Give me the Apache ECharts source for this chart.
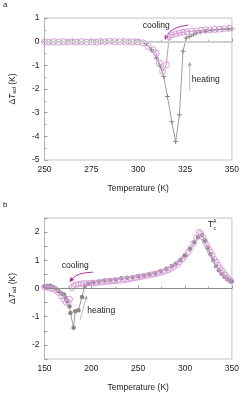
<!DOCTYPE html>
<html><head><meta charset="utf-8">
<script src="https://cdn.jsdelivr.net/npm/echarts@6/dist/echarts.min.js"></script>
<style>html,body{margin:0;padding:0;background:#fff}#c{width:242px;height:393px}</style>
</head><body><div id="c"></div>
<script>
// ---- Panel a data ----
const aHeatT = [250,253,256,259,262,265,268,271,274,277,280,283,286,289,292,295,298,301,304.4,307,309.6,311.7,313.6,315.6,317.9,320,322,323.9,325.6,327.5,329.5,331,333,336,339,342,345,348,350];
const aHeatV = [0,-0.02,0,-0.01,0,0,0,0.01,0,0,0,0.01,0,0,0,0,0,-0.02,-0.08,-0.34,-0.69,-1.04,-1.47,-2.32,-3.38,-4.22,-3.09,-0.41,0.16,0.22,0.3,0.37,0.4,0.44,0.47,0.5,0.52,0.53,0.55];
const aCoolT = [250,252.5,255,257.5,260,262.5,265,267.5,270,272.5,275,277.5,280,282.5,285,287.5,290,292.5,295,297.5,300,302.5,305.3,307.9,309.6,311.3,313,315,316.5,318,320,322,324,326,328.5,331,333.5,336,338.5,341,343.5,346,348.5];
const aCoolV = [0,-0.02,0,-0.03,0,-0.02,0,-0.02,0,-0.02,0,-0.03,0.01,0,0.02,0,0,0.01,-0.01,0,-0.02,-0.05,-0.2,-0.34,-0.48,-0.9,-1.25,-0.97,0.2,0.28,0.33,0.37,0.4,0.42,0.44,0.46,0.48,0.5,0.5,0.52,0.53,0.55,0.57];
// ---- Panel b data ----
const bHeatT = [150,153,156,159,162,165,168,170.8,172.5,174.3,176.7,177.7,181,182.8,186.2,190,193,197,202,208,214,220,226,232,238,244,250,256,262,268,274,280,286,290,295,300,305,310,314,318,321,324,327,330,333,336,339,342,345,348,350];
const bHeatV = [0.08,0.1,0.1,0.05,0,-0.1,-0.18,-0.21,-0.33,-0.45,-0.63,-0.87,-1.39,-0.81,-0.77,-0.3,0.1,0.17,0.22,0.25,0.28,0.3,0.32,0.36,0.38,0.4,0.43,0.46,0.5,0.55,0.62,0.7,0.8,0.88,1.0,1.18,1.4,1.65,1.83,1.9,1.7,1.45,1.22,1.0,0.8,0.65,0.52,0.42,0.33,0.27,0.25];
const bCoolT = [150,153,156,159,162,165,168,170.5,173,175.5,177,179,181,183.5,186,189,192,195,198,201,204,207,210,213,216,219,222,225,228,231,234,237,240,243,246,249,252,255,258,261,264,267,270,273,276,279,282,285,288,291,294,297,300,303,306,309,312,315,317,319,321,323,325,327,329,331,333,335,337,339,341,343,345,347,349];
const bCoolV = [0.05,0.03,0.01,-0.02,-0.05,-0.15,-0.27,-0.38,-0.5,-0.48,-0.38,0.02,0.1,0.14,0.15,0.17,0.18,0.18,0.19,0.2,0.2,0.21,0.22,0.23,0.24,0.25,0.26,0.27,0.28,0.29,0.3,0.31,0.33,0.35,0.37,0.39,0.41,0.43,0.45,0.47,0.49,0.51,0.53,0.56,0.59,0.62,0.66,0.71,0.77,0.84,0.93,1.03,1.15,1.28,1.42,1.6,1.8,2.0,1.95,1.82,1.68,1.55,1.42,1.3,1.18,1.05,0.95,0.84,0.74,0.65,0.56,0.48,0.4,0.33,0.27];

const pair = (t,v)=>t.map((x,i)=>[x,v[i]]);
const FONT = "'Liberation Sans', Arial, sans-serif";
const FS = 8.5;
const GRAYLINE = '#9c9c9c', GRAYMK = '#888888', PINK = '#d69ed6', MAG = '#a3228f';
const plus = 'path://M2,0L3,0L3,2L5,2L5,3L3,3L3,5L2,5L2,3L0,3L0,2L2,2Z';

function xAx(idx,min,max,iv){
  return {gridIndex:idx,type:'value',min,max,interval:iv,
    name:'Temperature (K)',nameLocation:'middle',nameGap:24,
    nameTextStyle:{fontFamily:FONT,fontSize:FS,color:'#222'},
    axisLine:{lineStyle:{color:'#b5b5b5'}},axisTick:{inside:true,length:3,lineStyle:{color:'#999'}},
    minorTick:{show:true,splitNumber:2,length:2,lineStyle:{color:'#aaa'}},
    axisLabel:{fontFamily:FONT,fontSize:FS,color:'#222',margin:5},splitLine:{show:false}};
}
function yAx(idx,min,max,iv,fmt){
  return {gridIndex:idx,type:'value',min,max,interval:iv,
    name:'{d|Δ}{t|T}{s|ad}{d| (K)}',nameLocation:'middle',nameGap:27,nameRotate:90,
    nameTextStyle:{rich:{d:{fontFamily:FONT,fontSize:FS,color:'#222'},t:{fontFamily:FONT,fontSize:FS,fontStyle:'italic',color:'#222'},s:{fontFamily:FONT,fontSize:6,color:'#222',padding:[4,0,0,0]}}},
    axisLine:{lineStyle:{color:'#b5b5b5'}},axisTick:{inside:true,length:3,lineStyle:{color:'#999'}},
    minorTick:{show:!fmt,splitNumber:2,length:2,lineStyle:{color:'#aaa'}},
    axisLabel:{fontFamily:FONT,fontSize:FS,color:'#222',margin:5,formatter:fmt||(v=>String(v))},splitLine:{show:false}};
}
const chart = echarts.init(document.getElementById('c'),null,{renderer:'canvas'});
const opt = {
  animation:false,
  grid:[{left:40,right:9,top:18,height:142,show:true,borderColor:'#c4c4c4',borderWidth:1},
        {left:38,right:9,top:218,height:144,show:true,borderColor:'#c4c4c4',borderWidth:1}],
  xAxis:[xAx(0,250,350,25),xAx(1,150,350,50)],
  yAxis:[yAx(0,-5,1,1),yAx(1,-2.5,2.5,0.5,v=>Number.isInteger(v)?String(v):'')],
  series:[
    {type:'line',xAxisIndex:0,yAxisIndex:0,data:pair(aHeatT,aHeatV),symbol:plus,symbolSize:5,
     lineStyle:{color:GRAYLINE,width:1},itemStyle:{color:GRAYMK},
     markLine:{silent:true,symbol:'none',label:{show:false},lineStyle:{color:'#cfcfcf',width:2,type:'solid'},data:[{yAxis:0}]}},
    {type:'line',xAxisIndex:0,yAxisIndex:0,data:pair(aCoolT,aCoolV),symbol:'circle',symbolSize:6,
     lineStyle:{color:'#b864ac',width:0.7},itemStyle:{color:'rgba(255,255,255,0)',borderColor:PINK,borderWidth:1}},
    {type:'line',xAxisIndex:1,yAxisIndex:1,data:pair(bHeatT,bHeatV),symbol:'circle',symbolSize:4.5,
     lineStyle:{color:GRAYLINE,width:1},itemStyle:{color:GRAYMK},
     markLine:{silent:true,symbol:'none',label:{show:false},lineStyle:{color:'#8c8c8c',width:1,type:'solid'},data:[{yAxis:0}]}},
    {type:'line',xAxisIndex:1,yAxisIndex:1,data:pair(bCoolT,bCoolV),symbol:'circle',symbolSize:5.5,
     lineStyle:{width:0},itemStyle:{color:'rgba(255,255,255,0)',borderColor:PINK,borderWidth:1}}
  ],
  graphic:[]
};
chart.setOption(opt);

// annotations anchored in data coordinates
const P = (g,x,y)=>chart.convertToPixel({gridIndex:g},[x,y]);
function arrow(g,s,c,e,color,w,head){
  const ps=P(g,...s), pc=P(g,...c), pe=P(g,...e);
  const ang=Math.atan2(pe[1]-pc[1],pe[0]-pc[0]);
  const L=head, W=head*0.5;
  const bx=pe[0]-L*Math.cos(ang), by=pe[1]-L*Math.sin(ang);
  const nx=-Math.sin(ang)*W, ny=Math.cos(ang)*W;
  return [
    {type:'bezierCurve',shape:{x1:ps[0],y1:ps[1],cpx1:pc[0],cpy1:pc[1],x2:bx,y2:by},style:{stroke:color,lineWidth:w,fill:null},silent:true},
    {type:'polygon',shape:{points:[[pe[0],pe[1]],[bx+nx,by+ny],[bx-nx,by-ny]]},style:{fill:color},silent:true}
  ];
}
function txt(g,x,y,text){
  const p=P(g,x,y);
  return {type:'text',x:p[0],y:p[1],silent:true,style:{text,fontFamily:FONT,fontSize:FS,fill:'#222',align:'center',verticalAlign:'middle'}};
}
const G=[];
G.push(txt(0,309.6,0.66,'cooling'));
G.push(...arrow(0,[326.7,0.7],[317.4,0.62],[314.2,0.07],MAG,0.9,4.5));
G.push(txt(0,336,-1.62,'heating'));
G.push(...arrow(0,[327.5,-2.05],[327.5,-1.5],[327.5,-0.85],'#a8a8a8',0.8,4));
G.push(txt(1,182.8,0.8,'cooling'));
G.push(...arrow(1,[201.6,0.58],[184.9,0.56],[176.7,0.23],MAG,0.9,4.5));
G.push(txt(1,210.5,-0.8,'heating'));
G.push(...arrow(1,[188,-1.11],[191.5,-0.7],[195.1,-0.24],'#a8a8a8',0.8,4));
const tc=P(1,324.4,2.26);
G.push({type:'text',x:tc[0],y:tc[1],silent:true,style:{text:'{t|T}{a|A}',rich:{t:{fontFamily:FONT,fontSize:FS,fill:'#222'},a:{fontFamily:FONT,fontSize:5,fill:'#222',padding:[0,0,6,0]}},align:'left',verticalAlign:'middle'}});
G.push({type:'text',x:tc[0]+5.5,y:tc[1]+4,silent:true,style:{text:'c',fontFamily:FONT,fontSize:5,fill:'#222',align:'left',verticalAlign:'middle'}});
G.push({type:'text',x:3,y:5,silent:true,style:{text:'a',fontFamily:FONT,fontSize:8,fill:'#222',verticalAlign:'middle'}});
G.push({type:'text',x:3,y:205,silent:true,style:{text:'b',fontFamily:FONT,fontSize:8,fill:'#222',verticalAlign:'middle'}});
chart.setOption({graphic:G});
</script></body></html>
